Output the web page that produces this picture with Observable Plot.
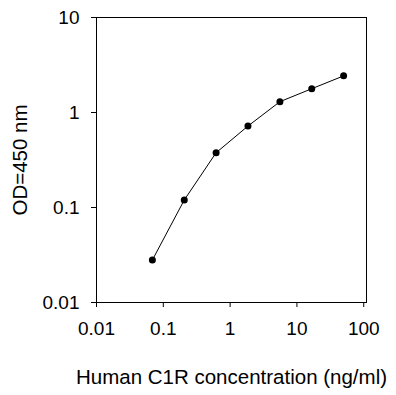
<!DOCTYPE html>
<html><head><meta charset="utf-8">
<script src="https://cdn.jsdelivr.net/npm/d3@7"></script>
<script src="https://cdn.jsdelivr.net/npm/@observablehq/plot@0.6"></script>
<style>body{margin:0;background:#fff}</style>
</head><body><div id="chart"></div>
<script>
const concentration = [0.0686, 0.206, 0.617, 1.85, 5.56, 16.67, 50];
const od = [0.028, 0.12, 0.377, 0.72, 1.3, 1.78, 2.43];
const xTicks = [0.01, 0.1, 1, 10, 100];
const yTicks = [0.01, 0.1, 1, 10];
const xLabel = "Human C1R concentration (ng/ml)";
const yLabel = "OD=450 nm";
const data = concentration.map((c, i) => ({c, od: od[i]}));
const font = "'Liberation Sans', Arial, sans-serif";
const chart = Plot.plot({
  width: 396, height: 395,
  marginLeft: 96, marginRight: 30, marginTop: 17, marginBottom: 93,
  style: {fontFamily: font, fontSize: "19px", color: "#000", background: "#fff", overflow: "visible"},
  x: {type: "log", domain: [0.01, 110]},
  y: {type: "log", domain: [0.01, 10]},
  marks: [
    Plot.frame({stroke: "#000", strokeWidth: 1}),
    Plot.axisX({ticks: xTicks, tickFormat: d => String(d), tickSize: 5, tickPadding: 14, fontSize: 19, label: null}),
    Plot.axisX({ticks: [], fontSize: 20.5, label: xLabel, labelAnchor: "center", labelOffset: 81, labelArrow: "none"}),
    Plot.axisY({ticks: yTicks, tickFormat: d => String(d), tickSize: 5, tickPadding: 12, fontSize: 19, label: null}),
    Plot.axisY({ticks: [], fontSize: 20.5, label: yLabel, labelAnchor: "center", labelOffset: 84, labelArrow: "none"}),
    Plot.line(data, {x: "c", y: "od", stroke: "#000", strokeWidth: 1}),
    Plot.dot(data, {x: "c", y: "od", r: 3.5, fill: "#000", stroke: "none"})
  ]
});
document.getElementById("chart").appendChild(chart);
</script>
</body></html>
